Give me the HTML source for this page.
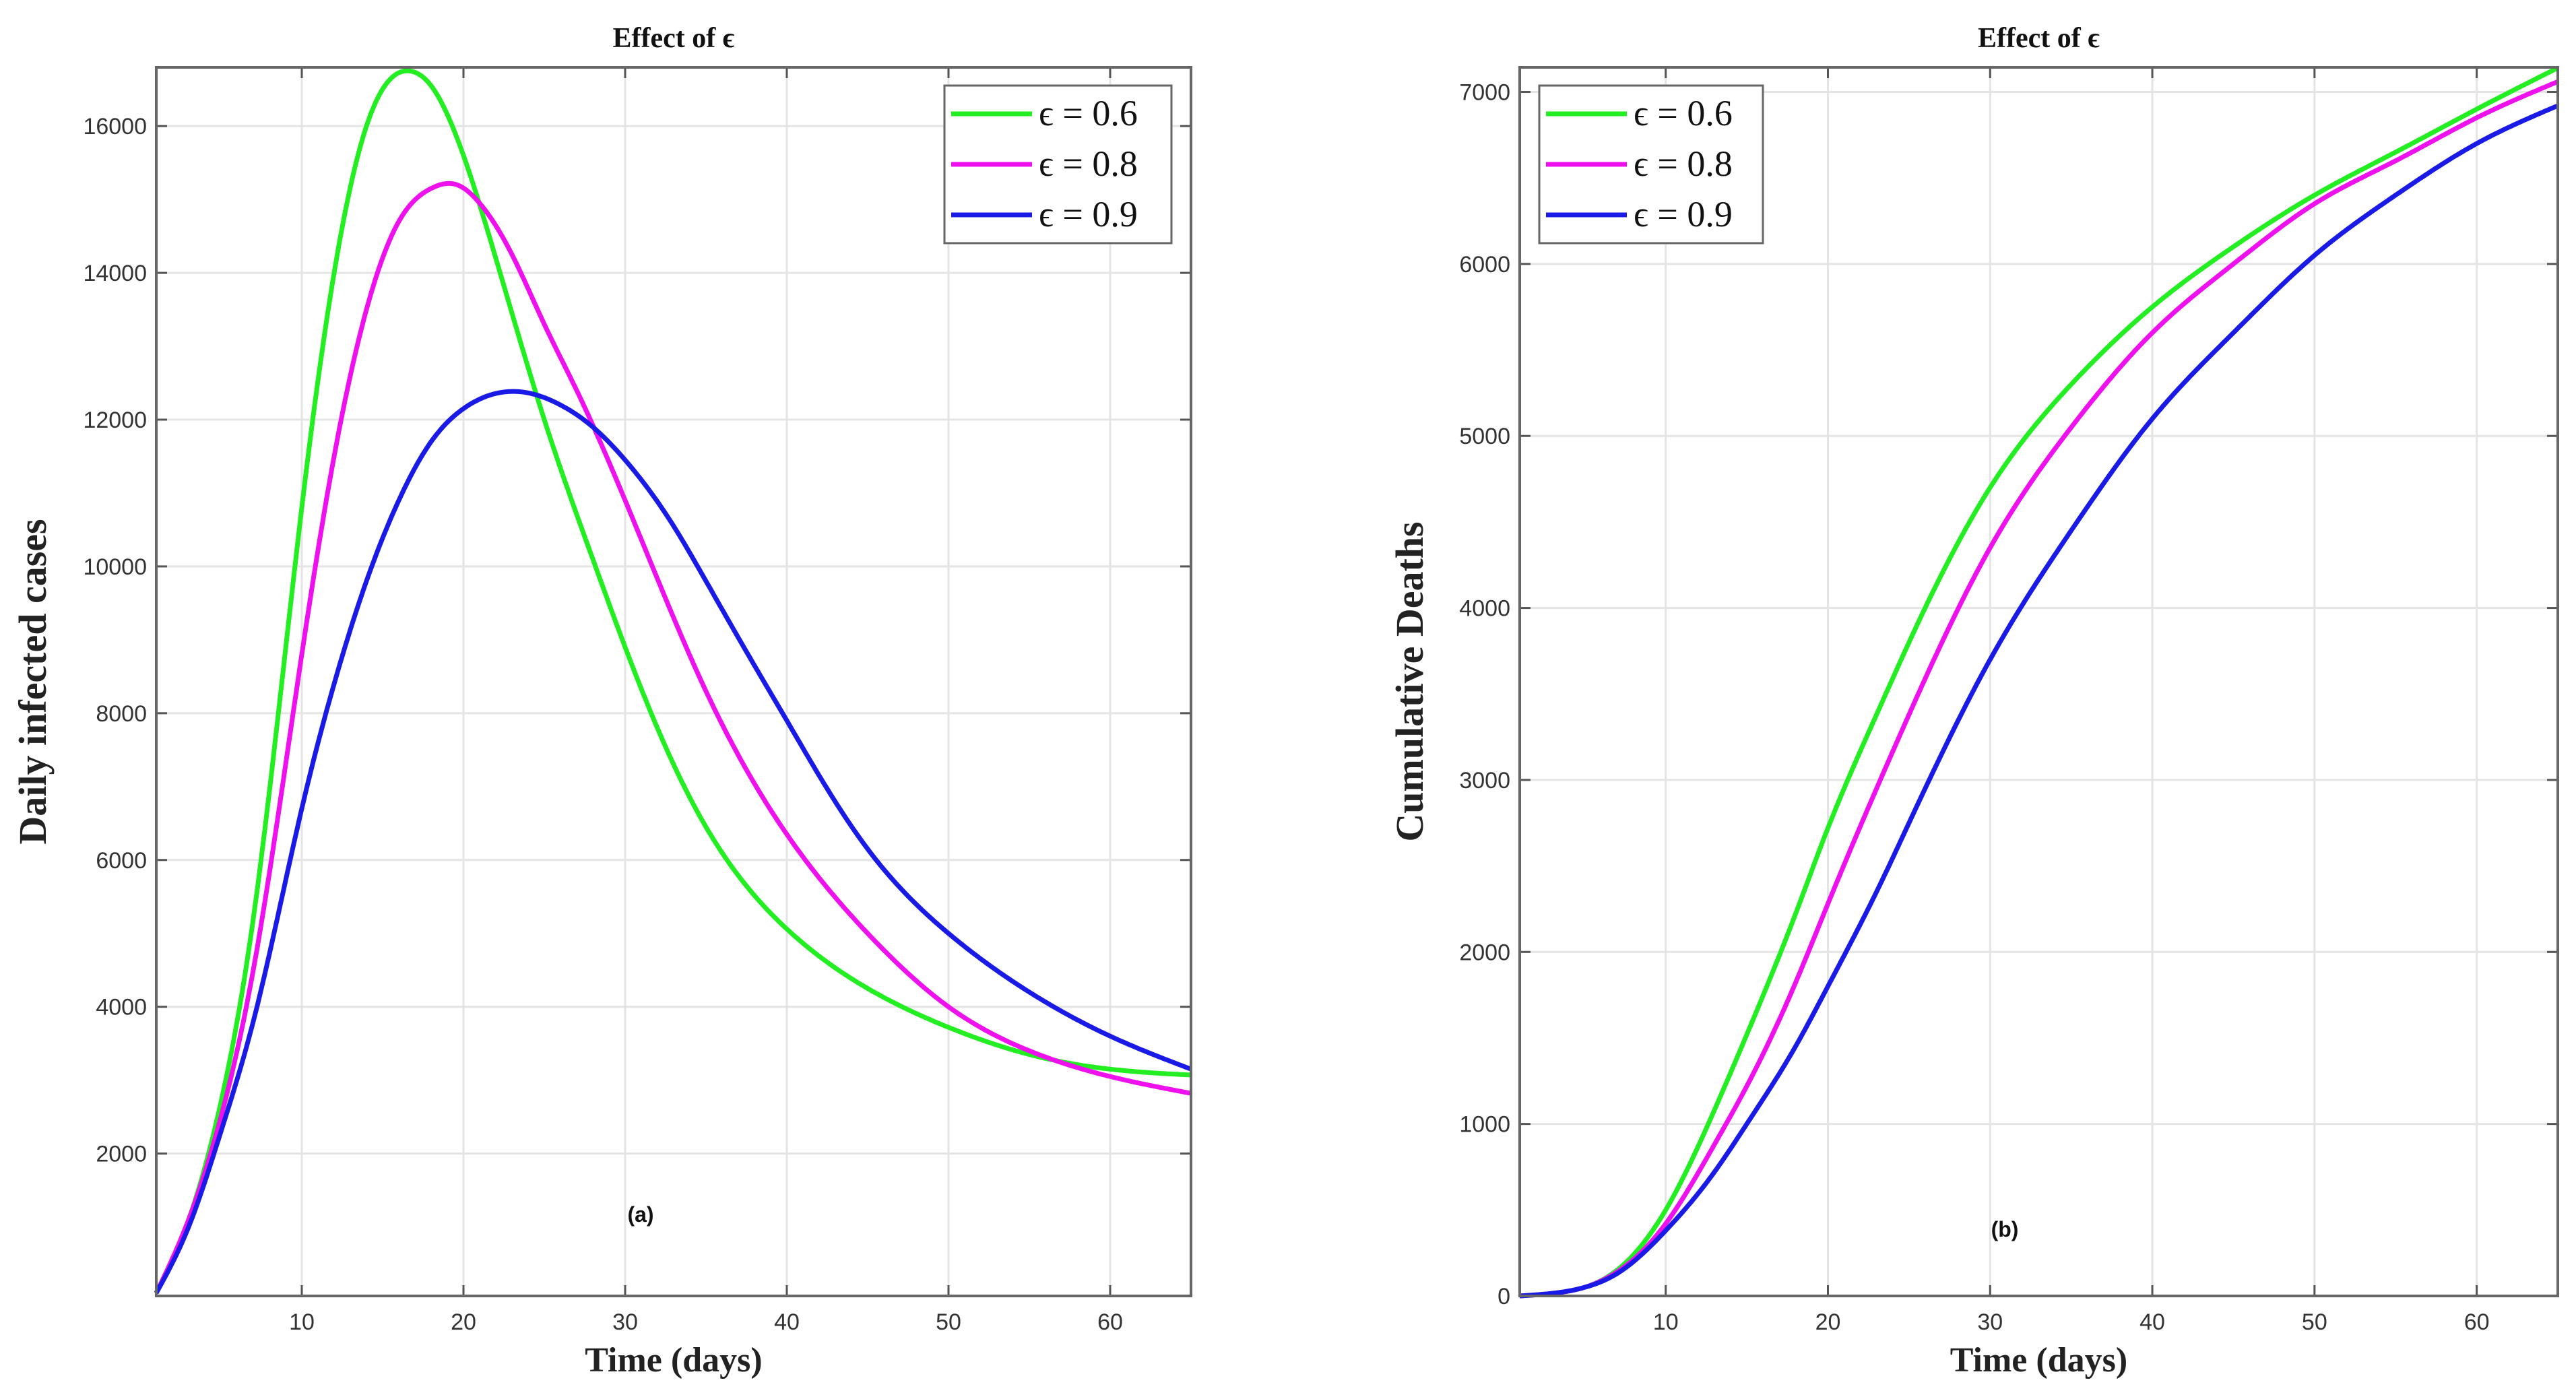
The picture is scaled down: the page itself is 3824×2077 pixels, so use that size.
<!DOCTYPE html>
<html><head><meta charset="utf-8"><style>
html,body{margin:0;padding:0;background:#fff;}
svg{display:block;}
</style></head><body>
<svg id="fig" width="3824" height="2077" viewBox="0 0 3824 2077" xmlns="http://www.w3.org/2000/svg"></svg>
<script>
const xTicks=[10,20,30,40,50,60];
const leftYTicks=[2000,4000,6000,8000,10000,12000,14000,16000];
const rightYTicks=[0,1000,2000,3000,4000,5000,6000,7000];
const seriesLabels=["\u03f5 = 0.6","\u03f5 = 0.8","\u03f5 = 0.9"];
const seriesColors=["#22ee22","#ee11ee","#1a1ae6"];
const leftDays0=[1,3,5,7,10,12,14,16.7,18,20,22,25,28,30,33,35,40,45,50,55,60,65];
const leftGreen=[100,1100,2700,5200,10800,14000,16000,16750,16550,15600,14200,12000,10100,8900,7300,6450,5060,4250,3720,3350,3150,3070];
const leftDays1=[1,3,5,7,10,12,14,16,18,19.6,21,23,25,27,30,33,35,40,45,50,55,60,65];
const leftMagenta=[100,1100,2500,4500,8800,11500,13500,14700,15150,15200,14950,14250,13300,12400,10900,9300,8300,6350,5000,4000,3400,3050,2820];
const leftDays2=[1,3,5,7,10,12,14,16,18,20,23.5,26,28,30,33,35,38,40,42,45,50,55,60,65];
const leftBlue=[100,1000,2300,3800,6700,8400,9800,10900,11700,12150,12380,12200,11900,11450,10550,9800,8650,7900,7150,6150,5000,4200,3600,3150];
const rightDays=[1,3,5,7,10,13,15,18,20,23,25,30,35,40,45,50,55,60,65];
const rightGreen=[0,15,50,150,500,1080,1520,2220,2720,3380,3800,4700,5300,5750,6100,6400,6650,6900,7140];
const rightMagenta=[0,15,50,140,420,880,1220,1820,2280,2950,3380,4350,5050,5600,6000,6350,6600,6850,7060];
const rightBlue=[0,15,50,130,380,720,1000,1450,1800,2350,2750,3700,4450,5100,5600,6050,6400,6700,6920];

const NS="http://www.w3.org/2000/svg";
const svg=document.getElementById('fig');
function mk(tag,attrs,parent){const e=document.createElementNS(NS,tag);for(const k in attrs)e.setAttribute(k,attrs[k]);(parent||svg).appendChild(e);return e;}
function spline(xs,ys){
  const n=xs.length,h=[],a=[],l=[1],mu=[0],z=[0],c=new Array(n).fill(0),b=[],d=[];
  for(let i=0;i<n-1;i++)h.push(xs[i+1]-xs[i]);
  for(let i=1;i<n-1;i++)a[i]=3/h[i]*(ys[i+1]-ys[i])-3/h[i-1]*(ys[i]-ys[i-1]);
  for(let i=1;i<n-1;i++){l[i]=2*(xs[i+1]-xs[i-1])-h[i-1]*mu[i-1];mu[i]=h[i]/l[i];z[i]=(a[i]-h[i-1]*z[i-1])/l[i];}
  for(let j=n-2;j>=0;j--){c[j]=(j>0?z[j]:0)-mu[j]*c[j+1];b[j]=(ys[j+1]-ys[j])/h[j]-h[j]*(c[j+1]+2*c[j])/3;d[j]=(c[j+1]-c[j])/(3*h[j]);}
  return x=>{let j=0;while(j<n-2&&x>xs[j+1])j++;const t=x-xs[j];return ys[j]+b[j]*t+c[j]*t*t+d[j]*t*t*t;};
}
function panel(cfg){
  const g=mk('g',{});
  
  
  const {L,R,T,B,xmin,xmax,ymin,ymax}=cfg;
  const sx=v=>L+(v-xmin)/(xmax-xmin)*(R-L);
  const sy=v=>B-(v-ymin)/(ymax-ymin)*(B-T);
  mk('rect',{x:L,y:T,width:R-L,height:B-T,fill:'#fff'},g);
  xTicks.forEach(t=>{
    const x=sx(t);
    const gl=mk('line',{x1:x,x2:x,y1:T,y2:B,stroke:'#e4e4e4','stroke-width':3},g);
    
    
    mk('line',{x1:x,x2:x,y1:B,y2:B-16,stroke:'#555','stroke-width':3},g);
    mk('line',{x1:x,x2:x,y1:T,y2:T+16,stroke:'#555','stroke-width':3},g);
    const tx=mk('text',{x:x,y:B+50,'text-anchor':'middle','font-family':'Liberation Sans, sans-serif','font-size':34,fill:'#333'},g);
    tx.textContent=t;
    
    
  });
  cfg.yTicks.forEach(t=>{
    const y=sy(t);
    const gl=mk('line',{x1:L,x2:R,y1:y,y2:y,stroke:'#e4e4e4','stroke-width':3},g);
    
    
    mk('line',{x1:L,x2:L+16,y1:y,y2:y,stroke:'#555','stroke-width':3},g);
    mk('line',{x1:R,x2:R-16,y1:y,y2:y,stroke:'#555','stroke-width':3},g);
    const tx=mk('text',{x:L-14,y:y+12,'text-anchor':'end','font-family':'Liberation Sans, sans-serif','font-size':34,fill:'#333'},g);
    tx.textContent=t;
    
    
  });
  cfg.series.forEach((s,i)=>{
    const f=spline(s.x,s.y);
    const x0=s.x[0],x1=s.x[s.x.length-1];
    let d="";
    for(let k=0;k<=400;k++){const xv=x0+(x1-x0)*k/400;d+=(k?"L":"M")+sx(xv).toFixed(1)+","+sy(f(xv)).toFixed(1);}
    const p=mk('path',{d:d,fill:'none',stroke:seriesColors[i],'stroke-width':7,'stroke-linejoin':'round'},g);
    
    
  });
  const fr=mk('rect',{x:L,y:T,width:R-L,height:B-T,fill:'none',stroke:'#666','stroke-width':4},g);
  
  
  const ti=mk('text',{x:(L+R)/2,y:T-30,'text-anchor':'middle','font-family':'Liberation Serif, serif','font-weight':'bold','font-size':42,fill:'#111'},g);
  ti.textContent="Effect of \u03f5";
  
  
  const xl=mk('text',{x:(L+R)/2,y:B+112,'text-anchor':'middle','font-family':'Liberation Serif, serif','font-weight':'bold','font-size':52,fill:'#222'},g);
  xl.textContent="Time (days)";
  
  
  const yc=(T+B)/2;
  const yl=mk('text',{x:cfg.ylx,y:yc,'text-anchor':'middle','font-family':'Liberation Serif, serif','font-weight':'bold','font-size':58,fill:'#222',transform:'rotate(-90 '+cfg.ylx+' '+yc+')'},g);
  yl.textContent=cfg.ylabel;
  
  
  const pl=mk('text',{x:cfg.pl[0],y:cfg.pl[1],'text-anchor':'middle','font-family':'Liberation Sans, sans-serif','font-weight':'bold','font-size':32,fill:'#111'},g);
  pl.textContent=cfg.plabel;
  
  
  const lg=mk('g',{},g);
  
  
  const [lx,ly,lw,lh]=cfg.legend;
  mk('rect',{x:lx,y:ly,width:lw,height:lh,fill:'#fff',stroke:'#666','stroke-width':3},lg);
  seriesLabels.forEach((lab,i)=>{
    const yy=ly+42+i*75;
    const e=mk('g',{},lg);
    
    
    mk('line',{x1:lx+10,x2:lx+130,y1:yy,y2:yy,stroke:seriesColors[i],'stroke-width':7},e);
    const t=mk('text',{x:lx+140,y:yy+17,'font-family':'Liberation Serif, serif','font-size':54,fill:'#111'},e);
    t.textContent=lab;
  });
}
panel({name:'daily-infected-chart',L:232,R:1768,T:100,B:1924,xmin:1,xmax:65,ymin:60,ymax:16800,
  yTicks:leftYTicks,ylabel:'Daily infected cases',ylx:68,plabel:'(a)',pl:[951,1814],legend:[1402,127,337,234],
  series:[{x:leftDays0,y:leftGreen},{x:leftDays1,y:leftMagenta},{x:leftDays2,y:leftBlue}]});
panel({name:'cumulative-deaths-chart',L:2256,R:3797,T:100,B:1924,xmin:1,xmax:65,ymin:0,ymax:7143,
  yTicks:rightYTicks,ylabel:'Cumulative Deaths',ylx:2112,plabel:'(b)',pl:[2976,1836],legend:[2285,127,332,234],
  series:[{x:rightDays,y:rightGreen},{x:rightDays,y:rightMagenta},{x:rightDays,y:rightBlue}]});
</script>
</body></html>
